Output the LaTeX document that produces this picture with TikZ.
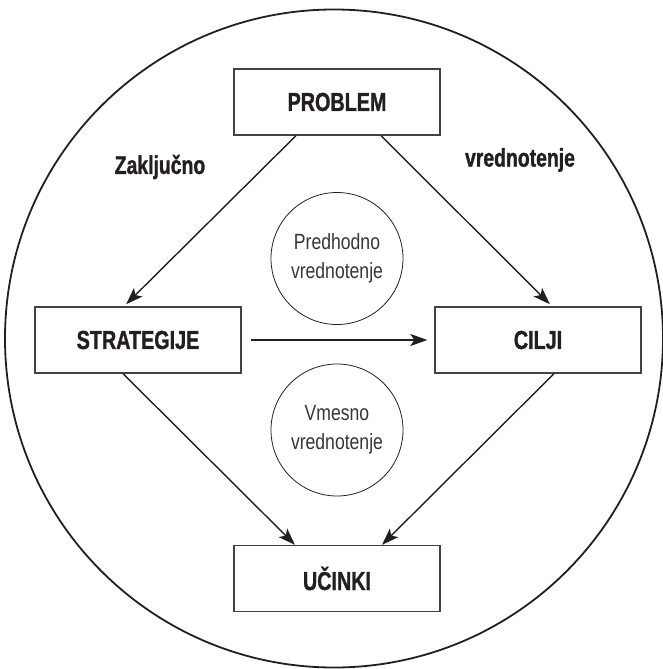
\documentclass[tikz,border=0pt]{standalone}
\usepackage{fontspec}
\setmainfont{Liberation Sans}[FakeStretch=0.8]
\newfontfamily\condbold{Liberation Sans}[FakeStretch=0.76,FakeBold=1.2,UprightFont=* Bold]
\usetikzlibrary{arrows.meta}
\definecolor{ink}{HTML}{231F20}
\begin{document}
\begin{tikzpicture}[x=1pt,y=-1pt,
  stagebox/.style={draw=ink!85,line width=1.3pt,minimum width=206pt,minimum height=66pt,
    inner sep=0pt,font=\condbold\fontsize{26}{28}\selectfont,text=ink},
  evalcircle/.style={draw=ink,line width=0.8pt,circle,minimum size=132pt,inner sep=0pt,
    align=center,font=\fontsize{22}{29}\selectfont,text=ink!90},
  flow/.style={draw=ink,line width=1.4pt,-{Stealth[length=17pt,width=12pt,inset=4pt]}},
  sidelabel/.style={font=\condbold\fontsize{25.5}{28}\selectfont,text=ink}]
\useasboundingbox (0,0) rectangle (663,669);
% outer boundary
\draw[ink,line width=1.8pt] (334,338.5) circle[radius=329];
% stages
\node[stagebox] (problem) at (337,102) {PROBLEM};
\node[stagebox] (strat) at (138,340) {STRATEGIJE};
\node[stagebox] (cilji) at (538,340) {CILJI};
\node[stagebox] (ucinki) at (337,578.5) {UČINKI};
% evaluation types
\node[evalcircle] (pred) at (337,258.5) {Predhodno\\vrednotenje};
\node[evalcircle] (vmes) at (337,430) {Vmesno\\vrednotenje};
\node[sidelabel] (zak) at (160,167) {Zaključno};
\node[sidelabel] (vred) at (520,160) {vrednotenje};
% connections
\draw[flow,shorten >=3pt] ([xshift=-41pt]problem.south) -- ([xshift=-14pt]strat.north);
\draw[flow,shorten >=3pt] ([xshift=44pt]problem.south) -- ([xshift=14pt]cilji.north);
\draw[flow,shorten <=9pt,shorten >=7pt] (strat.east) -- (cilji.west);
\draw[flow] ([xshift=-15pt]strat.south) -- ([xshift=-42pt]ucinki.north);
\draw[flow] ([xshift=16pt]cilji.south) -- ([xshift=45pt]ucinki.north);
\end{tikzpicture}
\end{document}
